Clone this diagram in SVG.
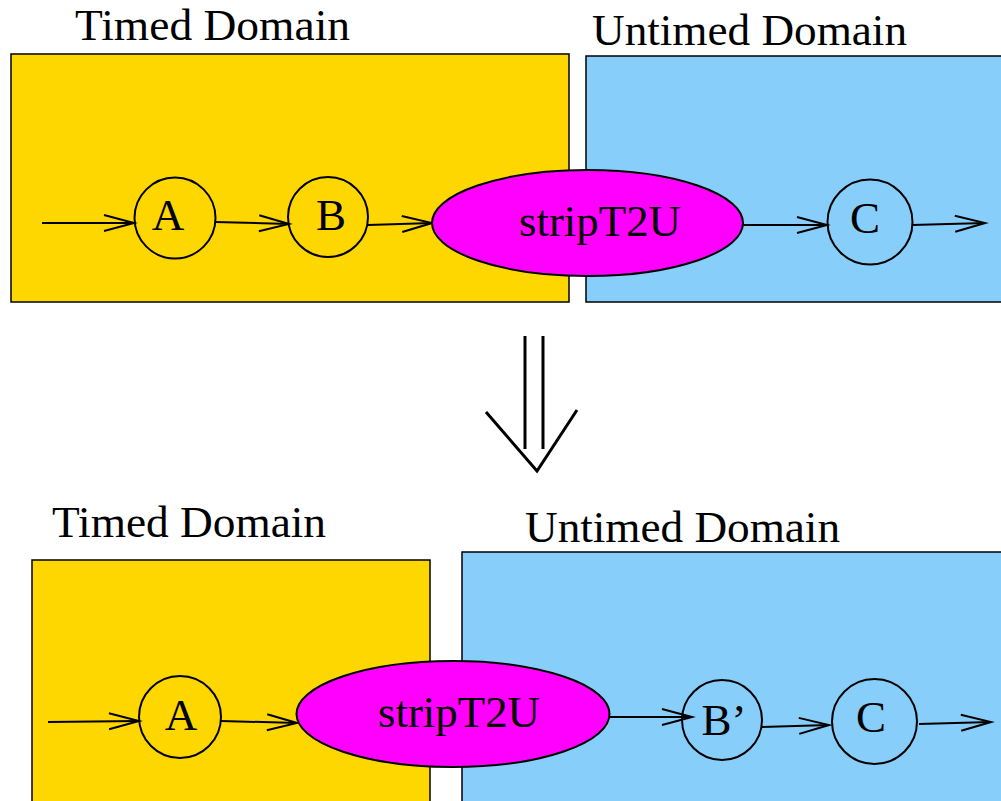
<svg xmlns="http://www.w3.org/2000/svg" width="1001" height="801" viewBox="0 0 1001 801">
<style>
text{font-family:"Liberation Serif","Times New Roman",serif;fill:#000}
.lbl{font-size:44px}
.nt{font-size:45px;text-anchor:middle}
.timed{fill:#FFD700;stroke:#000;stroke-width:1.5}
.untimed{fill:#87CEFA;stroke:#000;stroke-width:1.5}
.node{fill:none;stroke:#000;stroke-width:2}
.strip{fill:#FF00FF;stroke:#000;stroke-width:2}
.edge{fill:none;stroke:#000;stroke-width:2;marker-end:url(#ah)}
.big{fill:none;stroke:#000;stroke-width:3}
</style>
<defs>
<marker id="ah" markerUnits="userSpaceOnUse" viewBox="0 0 32 18" markerWidth="32" markerHeight="18" refX="31" refY="9" orient="auto" overflow="visible">
<path d="M1,1 L31,9 L1,17" fill="none" stroke="#000" stroke-width="2"/>
</marker>
</defs>
<rect width="1001" height="801" fill="#fff"/>

<g id="top-timed-domain">
<rect class="timed" x="11" y="54" width="558" height="248"/>
<text class="lbl" x="75" y="40" textLength="275" lengthAdjust="spacingAndGlyphs">Timed Domain</text>
</g>
<g id="top-untimed-domain">
<rect class="untimed" x="586" y="56" width="420" height="246"/>
<text class="lbl" x="592" y="45" textLength="315" lengthAdjust="spacingAndGlyphs">Untimed Domain</text>
</g>

<g id="bottom-timed-domain">
<rect class="timed" x="32" y="560" width="398" height="250"/>
<text class="lbl" x="52" y="537" textLength="274" lengthAdjust="spacingAndGlyphs">Timed Domain</text>
</g>
<g id="bottom-untimed-domain">
<rect class="untimed" x="462" y="552" width="545" height="260"/>
<text class="lbl" x="525" y="542" textLength="315" lengthAdjust="spacingAndGlyphs">Untimed Domain</text>
</g>

<g id="connectors">
<line class="edge" x1="42" y1="223" x2="134" y2="223"/>
<line class="edge" x1="215" y1="222" x2="289" y2="224"/>
<line class="edge" x1="368" y1="225" x2="432" y2="223"/>
<line class="edge" x1="743" y1="225" x2="827" y2="225"/>
<line class="edge" x1="912" y1="225" x2="985" y2="223"/>

<line class="edge" x1="48" y1="722" x2="139" y2="721"/>
<line class="edge" x1="221" y1="721" x2="297" y2="723"/>
<line class="edge" x1="610" y1="717" x2="692" y2="717"/>
<line class="edge" x1="762" y1="727" x2="829" y2="725"/>
<line class="edge" x1="919" y1="724" x2="991" y2="722"/>

<g id="transform-arrow">
<line class="big" x1="525" y1="336" x2="525" y2="449"/>
<line class="big" x1="543" y1="336" x2="543" y2="449"/>
<polyline class="big" points="486,412 537,471 577,410"/>
</g>
</g>

<g id="top-A"><circle class="node" cx="175" cy="218" r="40.5"/><text class="nt" x="168" y="230">A</text></g>
<g id="top-B"><circle class="node" cx="328" cy="217" r="40"/><text class="nt" x="331" y="230">B</text></g>
<g id="top-stripT2U"><ellipse class="strip" cx="587.5" cy="223" rx="155.5" ry="53"/><text class="nt" x="600" y="236" textLength="162" lengthAdjust="spacingAndGlyphs">stripT2U</text></g>
<g id="top-C"><circle class="node" cx="870" cy="222" r="42.5"/><text class="nt" x="865" y="233">C</text></g>

<g id="bottom-A"><circle class="node" cx="180" cy="717" r="41"/><text class="nt" x="181" y="730">A</text></g>
<g id="bottom-stripT2U"><ellipse class="strip" cx="453" cy="714" rx="156.5" ry="53"/><text class="nt" x="459" y="727" textLength="162" lengthAdjust="spacingAndGlyphs">stripT2U</text></g>
<g id="bottom-Bprime"><circle class="node" cx="722" cy="720" r="40"/><text class="nt" x="724" y="735">B’</text></g>
<g id="bottom-C"><circle class="node" cx="874.5" cy="721.5" r="42.5"/><text class="nt" x="871" y="732">C</text></g>
</svg>
